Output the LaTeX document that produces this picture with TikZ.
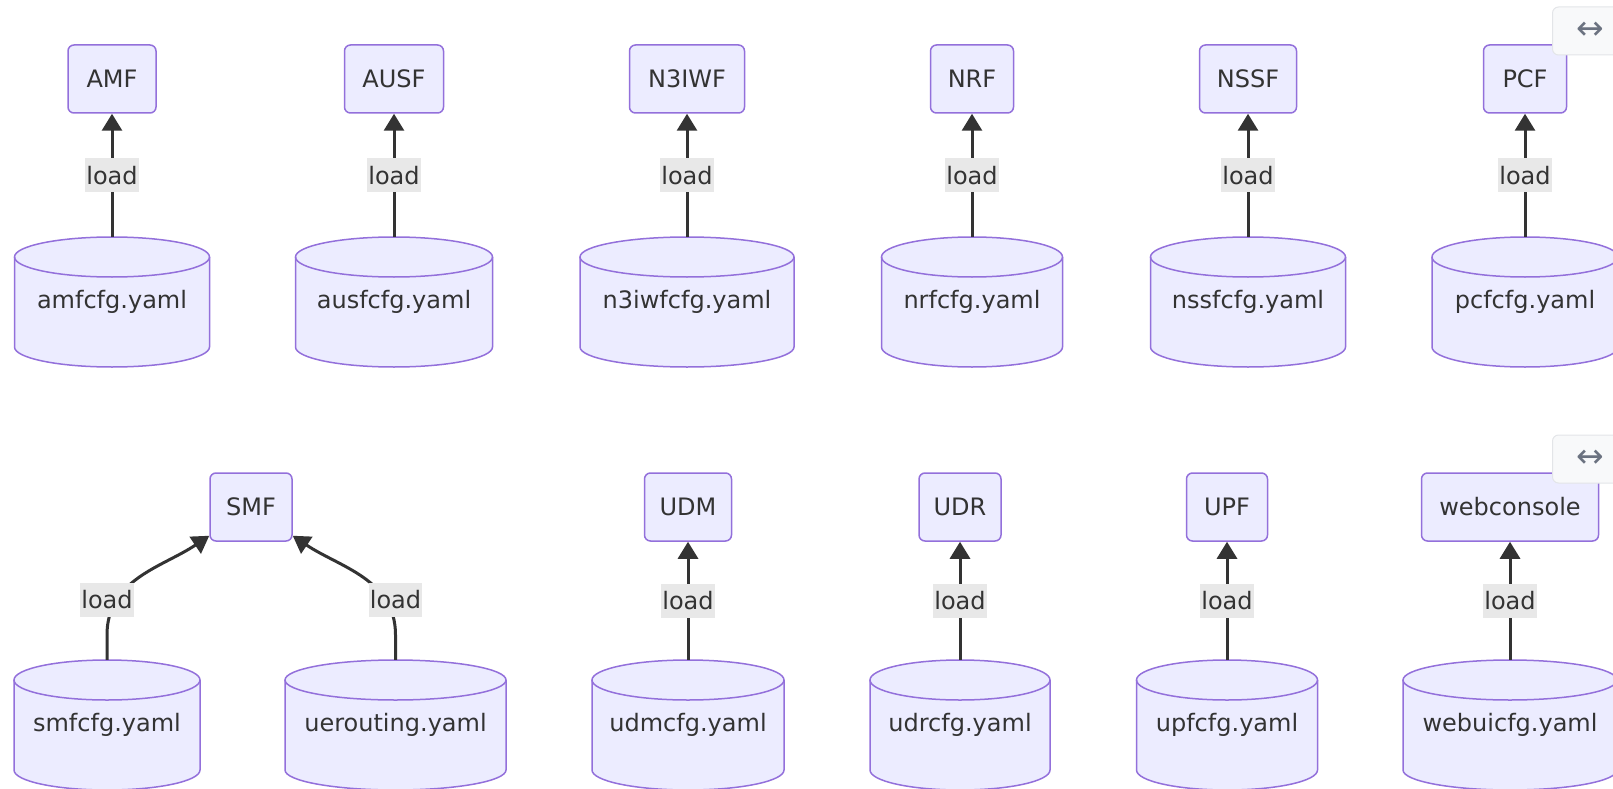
\documentclass[tikz,border=0pt]{standalone}
\usepackage{fontspec}
\setmainfont{DejaVu Sans}
\newfontfamily\symfont{DejaVu Sans}
\usetikzlibrary{arrows.meta}

\definecolor{nffill}{HTML}{ECECFF}
\definecolor{nfline}{HTML}{9370DB}
\definecolor{linkc}{HTML}{333333}
\definecolor{lblbg}{HTML}{E8E8E8}
\definecolor{txtc}{HTML}{333333}
\definecolor{btnfill}{HTML}{F8F9FA}
\definecolor{btnline}{HTML}{E3E5E8}
\definecolor{btntxt}{HTML}{6B7280}
\newcommand\nodefont{\fontsize{24}{28}\selectfont}

\begin{document}
\begin{tikzpicture}[x=1pt,y=-1pt,
    nf/.style={draw=nfline, fill=nffill, line width=1.5pt, rounded corners=6pt,
      minimum height=68pt, text=txtc, font=\nodefont},
    cfg/.style={minimum height=130pt, inner sep=0pt, text=txtc, font=\nodefont},
    cylside/.style={draw=nfline, line width=1.5pt},
    load/.style={fill=lblbg, text=txtc, font=\nodefont, inner xsep=1pt, inner ysep=0pt,
      minimum height=34pt},
    ld/.style={draw=linkc, line width=3pt, -{Triangle[length=17pt,width=20pt]}},
    btn/.style={draw=btnline, fill=btnfill, line width=1pt, rounded corners=6pt,
      minimum width=75pt, minimum height=48pt, text=btntxt, font=\symfont\fontsize{33}{35}\selectfont}]
  \useasboundingbox (0,0) rectangle (1613,789);

  % first row
  \foreach \id/\cx/\bw/\cw/\nf/\cfgtxt in {amf/112/88/195/AMF/amfcfg.yaml,
      ausf/394/99/197/AUSF/ausfcfg.yaml, n3iwf/687/115/214/N3IWF/n3iwfcfg.yaml,
      nrf/972/83/181/NRF/nrfcfg.yaml, nssf/1248/97/195/NSSF/nssfcfg.yaml,
      pcf/1525/83/186/PCF/pcfcfg.yaml}{
    \fill[nffill] (\cx-\cw/2,257) -- (\cx-\cw/2,347)
      arc[start angle=180,end angle=0,x radius=\cw/2,y radius=20] -- (\cx+\cw/2,257)
      arc[start angle=0,end angle=-180,x radius=\cw/2,y radius=20] -- cycle;
    \draw[cylside] (\cx,257) ellipse [x radius=\cw/2,y radius=20];
    \draw[cylside] (\cx-\cw/2,257) -- (\cx-\cw/2,347)
      arc[start angle=180,end angle=0,x radius=\cw/2,y radius=20] -- (\cx+\cw/2,257);
    \node[cfg, minimum width=\cw pt] (\id cfg) at (\cx,302) {\cfgtxt};
    \node[nf, minimum width=\bw pt] (\id) at (\cx,79) {\nf};
    \draw[ld] (\id cfg.north) -- node[load]{load} (\id);
  }

  % second row
  \foreach \id/\cx/\cw/\cfgtxt in {smf/107/186/smfcfg.yaml, uerouting/395.5/221/uerouting.yaml,
      udm/688/192/udmcfg.yaml, udr/960/180/udrcfg.yaml, upf/1227/181/upfcfg.yaml,
      webui/1510/214/webuicfg.yaml}{
    \fill[nffill] (\cx-\cw/2,680) -- (\cx-\cw/2,770)
      arc[start angle=180,end angle=0,x radius=\cw/2,y radius=20] -- (\cx+\cw/2,680)
      arc[start angle=0,end angle=-180,x radius=\cw/2,y radius=20] -- cycle;
    \draw[cylside] (\cx,680) ellipse [x radius=\cw/2,y radius=20];
    \draw[cylside] (\cx-\cw/2,680) -- (\cx-\cw/2,770)
      arc[start angle=180,end angle=0,x radius=\cw/2,y radius=20] -- (\cx+\cw/2,680);
    \node[cfg, minimum width=\cw pt] (\id cfg) at (\cx,725) {\cfgtxt};
  }
  \node[nf, minimum width=82pt] (smf) at (251,507) {SMF};
  \foreach \id/\cx/\bw/\nf in {udm/688/87/UDM, udr/960/82/UDR, upf/1227/81/UPF,
      webui/1510/177/webconsole}{
    \node[nf, minimum width=\bw pt] (\id) at (\cx,507) {\nf};
    \draw[ld] (\id cfg.north) -- node[load]{load} (\id);
  }

  % the two files read by SMF
  \draw[ld] (smfcfg.north) -- ++(0,-25) to[out=90,in=-146] ([yshift=6pt]smf.south west)
    node[load] at ([yshift=60pt]smfcfg.north) {load};
  \draw[ld] (ueroutingcfg.north) -- ++(0,-25) to[out=90,in=-34] ([yshift=6pt]smf.south east)
    node[load] at ([yshift=60pt]ueroutingcfg.north) {load};

  % zoom buttons
  \node[btn] (zoomtop) at (1590,31) {↔};
  \node[btn] (zoombot) at (1590,459) {↔};
\end{tikzpicture}
\end{document}
